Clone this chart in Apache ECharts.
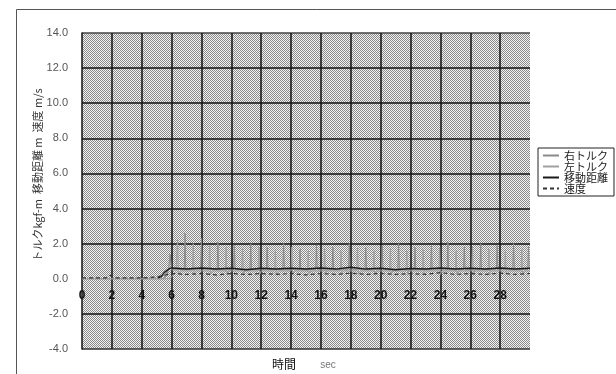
<!DOCTYPE html>
<html>
<head>
<meta charset="utf-8">
<script src="https://cdn.jsdelivr.net/npm/echarts@6/dist/echarts.min.js"></script>
<style>
  html, body { margin: 0; padding: 0; background: #fff; }
  #chart { width: 616px; height: 374px; }
</style>
</head>
<body>
<div id="chart"></div>
<script>
// 凡例
const seriesNames = ['右トルク', '左トルク', '移動距離', '速度'];

// 軸目盛
const yTicks = [-4, -2, 0, 2, 4, 6, 8, 10, 12, 14];
const xTicks = [0, 2, 4, 6, 8, 10, 12, 14, 16, 18, 20, 22, 24, 26, 28];

// [時間 sec, 値]
const rightTorque = [
  [0, 0], [5.5, 0], [5.8, 0.5], [5.9, 1.4], [6.0, 0.5],
  [6.85, 0.55], [6.9, 2.6], [6.95, 0.55],
  [7.95, 0.55], [8.0, 2.3], [8.05, 0.55],
  [9.05, 0.55], [9.1, 2.1], [9.15, 0.55],
  [10.15, 0.55], [10.2, 1.9], [10.25, 0.55],
  [11.25, 0.55], [11.3, 2.0], [11.35, 0.55],
  [12.35, 0.55], [12.4, 1.8], [12.45, 0.55],
  [13.45, 0.55], [13.5, 2.0], [13.55, 0.55],
  [14.55, 0.55], [14.6, 1.7], [14.65, 0.55],
  [15.65, 0.55], [15.7, 1.9], [15.75, 0.55],
  [16.75, 0.55], [16.8, 1.8], [16.85, 0.55],
  [17.85, 0.55], [17.9, 2.0], [17.95, 0.55],
  [18.95, 0.55], [19.0, 1.8], [19.05, 0.55],
  [20.05, 0.55], [20.1, 1.9], [20.15, 0.55],
  [21.15, 0.55], [21.2, 2.0], [21.25, 0.55],
  [22.25, 0.55], [22.3, 1.8], [22.35, 0.55],
  [23.35, 0.55], [23.4, 1.9], [23.45, 0.55],
  [24.45, 0.55], [24.5, 2.1], [24.55, 0.55],
  [25.55, 0.55], [25.6, 1.8], [25.65, 0.55],
  [26.65, 0.55], [26.7, 2.0], [26.75, 0.55],
  [27.75, 0.55], [27.8, 1.9], [27.85, 0.55],
  [28.85, 0.55], [28.9, 2.0], [28.95, 0.55],
  [29.85, 0.55], [29.9, 1.8], [29.95, 0.55], [30, 0.55]
];

const leftTorque = [
  [0, 0], [5.9, 0], [6.3, 0.45], [6.4, 2.2], [6.45, 0.25], [6.55, 0.45],
  [7.4, 0.45], [7.45, 2.0], [7.5, 0.25], [7.6, 0.45],
  [8.5, 0.45], [8.55, 1.9], [8.6, 0.25], [8.7, 0.45],
  [9.6, 0.45], [9.65, 1.8], [9.7, 0.25], [9.8, 0.45],
  [10.7, 0.45], [10.75, 1.7], [10.8, 0.25], [10.9, 0.45],
  [11.8, 0.45], [11.85, 1.8], [11.9, 0.25], [12.0, 0.45],
  [12.9, 0.45], [12.95, 1.6], [13.0, 0.25], [13.1, 0.45],
  [14.0, 0.45], [14.05, 1.8], [14.1, 0.25], [14.2, 0.45],
  [15.1, 0.45], [15.15, 1.6], [15.2, 0.25], [15.3, 0.45],
  [16.2, 0.45], [16.25, 1.7], [16.3, 0.25], [16.4, 0.45],
  [17.3, 0.45], [17.35, 1.6], [17.4, 0.25], [17.5, 0.45],
  [18.4, 0.45], [18.45, 1.8], [18.5, 0.25], [18.6, 0.45],
  [19.5, 0.45], [19.55, 1.6], [19.6, 0.25], [19.7, 0.45],
  [20.6, 0.45], [20.65, 1.7], [20.7, 0.25], [20.8, 0.45],
  [21.7, 0.45], [21.75, 1.6], [21.8, 0.25], [21.9, 0.45],
  [22.8, 0.45], [22.85, 1.7], [22.9, 0.25], [23.0, 0.45],
  [23.9, 0.45], [23.95, 1.8], [24.0, 0.25], [24.1, 0.45],
  [25.0, 0.45], [25.05, 1.6], [25.1, 0.25], [25.2, 0.45],
  [26.1, 0.45], [26.15, 1.8], [26.2, 0.25], [26.3, 0.45],
  [27.2, 0.45], [27.25, 1.7], [27.3, 0.25], [27.4, 0.45],
  [28.3, 0.45], [28.35, 1.6], [28.4, 0.25], [28.5, 0.45],
  [29.4, 0.45], [29.45, 1.7], [29.5, 0.25], [29.6, 0.45], [30, 0.45]
];

const distance = [
  [5.1, 0.05], [5.3, 0.12], [5.5, 0.35], [5.8, 0.55], [6.0, 0.62],
  [7, 0.55], [8, 0.62], [9, 0.55], [10, 0.6], [11, 0.52], [12, 0.6],
  [13, 0.55], [14, 0.6], [15, 0.55], [16, 0.62], [17, 0.55], [18, 0.65],
  [19, 0.55], [20, 0.6], [21, 0.52], [22, 0.58], [23, 0.55], [24, 0.62],
  [25, 0.55], [26, 0.6], [27, 0.55], [28, 0.62], [29, 0.55], [30, 0.6]
];

const speed = [
  [0, 0.05], [1.6, 0.05], [1.9, 0.2], [2.2, 0.05], [4, 0.05], [5, 0.1],
  [6, 0.3], [7, 0.25], [8, 0.3], [9, 0.22], [10, 0.3], [11, 0.25],
  [12, 0.3], [13, 0.25], [14, 0.3], [15, 0.22], [16, 0.3], [17, 0.25],
  [18, 0.32], [19, 0.25], [20, 0.3], [21, 0.25], [22, 0.3], [23, 0.25],
  [24, 0.35], [25, 0.25], [26, 0.3], [27, 0.25], [28, 0.32], [29, 0.25], [30, 0.3]
];

// 網掛けの背景
function stipple() {
  const c = document.createElement('canvas');
  c.width = 2; c.height = 2;
  const ctx = c.getContext('2d');
  ctx.fillStyle = '#f2f2f2'; ctx.fillRect(0, 0, 2, 2);
  ctx.fillStyle = '#8a8a8a';
  ctx.fillRect(0, 0, 1, 1); ctx.fillRect(1, 1, 1, 1);
  return c;
}

const jp = '"Noto Sans CJK JP", sans-serif';
const chart = echarts.init(document.getElementById('chart'));

// 0 の位置へラベルを上げる (グリッド高さ 316px, 範囲 -4..14)
const zeroOffset = -Math.round(316 * 4 / 18);

chart.setOption({
  animation: false,
  backgroundColor: '#fff',
  textStyle: { fontFamily: jp },
  grid: {
    show: true, left: 82, right: 86, top: 33, bottom: 25,
    backgroundColor: { image: stipple(), repeat: 'repeat' },
    borderWidth: 0
  },
  legend: {
    data: seriesNames,
    orient: 'vertical',
    left: 538, top: 148,
    itemWidth: 16, itemHeight: 6, itemGap: 0,
    padding: [2, 6, 2, 4],
    borderColor: '#222', borderWidth: 1,
    itemStyle: { opacity: 0 },
    textStyle: { fontSize: 11, color: '#222', lineHeight: 11, fontFamily: jp }
  },
  xAxis: {
    type: 'value', min: 0, max: 30, interval: 2,
    position: 'bottom', offset: zeroOffset,
    axisLine: { show: false, onZero: false },
    axisTick: { show: false },
    axisLabel: {
      margin: 11, fontSize: 12, fontWeight: 'bold', color: '#111',
      fontFamily: 'Liberation Sans, sans-serif',
      showMaxLabel: false,
      formatter: v => (xTicks.indexOf(v) >= 0 ? String(v) : '')
    },
    splitLine: {
      show: true, showMinLine: false, showMaxLine: false,
      lineStyle: { color: '#111', width: 1.5 }
    }
  },
  yAxis: {
    type: 'value', min: yTicks[0], max: yTicks[yTicks.length - 1], interval: 2,
    axisLine: { show: true, onZero: false, lineStyle: { color: '#111', width: 1.5 } },
    axisTick: { show: false },
    axisLabel: {
      margin: 14, fontSize: 11, color: '#555',
      fontFamily: 'Liberation Sans, sans-serif',
      formatter: v => v.toFixed(1)
    },
    splitLine: {
      show: true, showMinLine: true, showMaxLine: true,
      lineStyle: {
        width: 1.5,
        color: ['#333', '#111', 'rgba(0,0,0,0)', '#111', '#111', '#111', '#111', '#111', '#111', '#444']
      }
    }
  },
  graphic: [
    {
      type: 'rect', silent: true, z: -1,
      shape: { x: 16.5, y: 9.5, width: 700, height: 400 },
      style: { fill: 'none', stroke: '#555', lineWidth: 1 }
    },
    {
      type: 'text', x: 38, y: 175, rotation: Math.PI / 2,
      style: {
        text: 'トルクkgf-m  移動距離 m  速度 m/s',
        font: '11px "Noto Sans CJK JP"', fill: '#333',
        align: 'center', verticalAlign: 'middle'
      }
    },
    {
      type: 'text', x: 284, y: 364,
      style: {
        text: '時間', font: '12px "Noto Sans CJK JP"', fill: '#111',
        align: 'center', verticalAlign: 'middle'
      }
    },
    {
      type: 'text', x: 328, y: 365,
      style: {
        text: 'sec', font: '10px "Liberation Sans"', fill: '#777',
        align: 'center', verticalAlign: 'middle'
      }
    }
  ],
  series: [
    {
      name: seriesNames[0], type: 'line', data: rightTorque, symbol: 'none',
      lineStyle: { color: '#8a8a8a', width: 1 }, itemStyle: { color: '#8a8a8a' }, z: 2
    },
    {
      name: seriesNames[1], type: 'line', data: leftTorque, symbol: 'none',
      lineStyle: { color: '#a0a0a0', width: 1 }, itemStyle: { color: '#a0a0a0' }, z: 2
    },
    {
      name: seriesNames[2], type: 'line', data: distance, symbol: 'none',
      lineStyle: { color: '#1a1a1a', width: 1.5 }, itemStyle: { color: '#1a1a1a' }, z: 3
    },
    {
      name: seriesNames[3], type: 'line', data: speed, symbol: 'none',
      lineStyle: { color: '#333', width: 1.2, type: [4, 3] }, itemStyle: { color: '#333' }, z: 3
    }
  ]
});

window.onresize = () => chart.resize();
</script>
</body>
</html>
